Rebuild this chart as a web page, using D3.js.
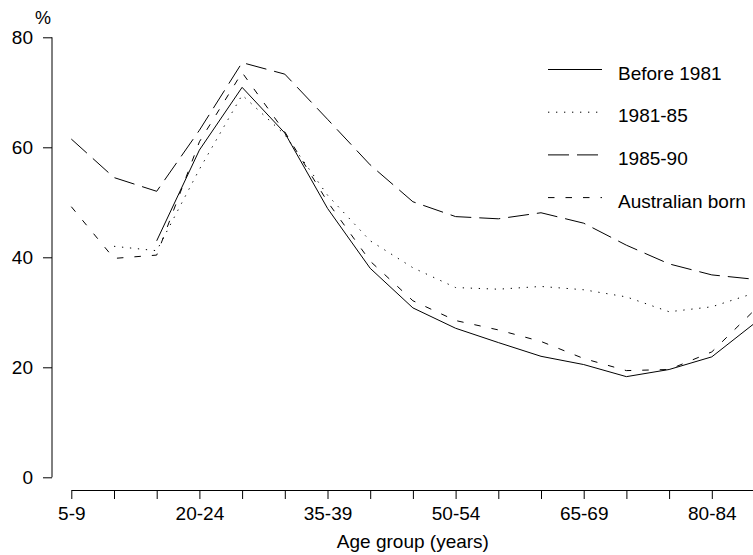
<!DOCTYPE html>
<html>
<head>
<meta charset="utf-8">
<script src="https://cdn.jsdelivr.net/npm/d3@7"></script>
<style>
  html, body { margin: 0; padding: 0; background: #fff; }
  svg { display: block; }
  text { font-family: "Liberation Sans", Arial, sans-serif; fill: #000; }
</style>
</head>
<body>
<svg id="chart" width="753" height="555"></svg>
<script>
// ---- data ----
const categories = ["5-9","10-14","15-19","20-24","25-29","30-34","35-39","40-44","45-49",
                    "50-54","55-59","60-64","65-69","70-74","75-79","80-84","85+"];
const labelledCategories = ["5-9","20-24","35-39","50-54","65-69","80-84"];
const yTicks = [0, 20, 40, 60, 80];
const seriesNames = ["Before 1981","1981-85","1985-90","Australian born"];
const before1981    = [null, null, 43.0, 59.5, 70.9, 62.6, 48.9, 38.0, 30.8, 27.1, 24.5, 22.0, 20.5, 18.3, 19.6, 21.9, 28.0];
const y1981_85      = [null, 42.0, 41.2, 56.0, 69.5, 62.3, 51.3, 43.0, 38.1, 34.5, 34.2, 34.7, 34.1, 32.8, 30.1, 31.0, 33.5];
const y1985_90      = [61.5, 54.5, 52.0, 63.1, 75.4, 73.3, 65.1, 56.8, 50.1, 47.4, 47.0, 48.1, 46.2, 42.2, 38.8, 36.8, 36.0];
const australianBorn= [49.2, 39.8, 40.4, 61.0, 73.6, 62.8, 50.1, 39.3, 32.1, 28.5, 26.8, 24.7, 21.6, 19.4, 19.6, 22.8, 30.4];
const seriesValues = [before1981, y1981_85, y1985_90, australianBorn];
const dashes = [null, "1.3,6.7", "21,8", "6.5,11"];

// ---- layout ----
const svg = d3.select("#chart");
const x = d3.scalePoint().domain(categories).range([71.3, 754.5]);
const y = d3.scaleLinear().domain([0, 80]).range([477.3, 37.3]);
const fontSize = 19;

// y axis
const yAxis = svg.append("g").attr("transform", "translate(52,0)")
  .call(d3.axisLeft(y).tickValues(yTicks).tickSize(9).tickPadding(10).tickSizeOuter(0));
yAxis.select(".domain").attr("stroke", "#000").attr("d", `M0,${y(0)}V${y(80)}`);
yAxis.selectAll(".tick line").attr("stroke", "#000");
yAxis.selectAll(".tick text").attr("font-size", fontSize).attr("font-family", "Liberation Sans, Arial, sans-serif").attr("fill", "#000").attr("dy", "0.35em");

// x axis
const xAxis = svg.append("g").attr("transform", "translate(0,490)")
  .call(d3.axisBottom(x).tickSize(9).tickPadding(8).tickSizeOuter(0)
    .tickFormat(d => labelledCategories.includes(d) ? d : ""));
xAxis.select(".domain").attr("stroke", "#000");
xAxis.selectAll(".tick line").attr("stroke", "#000");
xAxis.selectAll(".tick text").attr("font-size", fontSize).attr("font-family", "Liberation Sans, Arial, sans-serif").attr("fill", "#000");

// axis titles
svg.append("text").attr("x", 43).attr("y", 24).attr("text-anchor", "middle")
  .attr("font-size", fontSize - 1).text("%");
svg.append("text").attr("x", (x.range()[0] + x.range()[1]) / 2).attr("y", 548)
  .attr("text-anchor", "middle").attr("font-size", fontSize).text("Age group (years)");

// lines
const line = d3.line()
  .defined(d => d.v !== null)
  .x(d => x(d.c))
  .y(d => y(d.v));

seriesValues.forEach((vals, i) => {
  const pts = categories.map((c, j) => ({c, v: vals[j]}));
  svg.append("path")
    .datum(pts)
    .attr("fill", "none")
    .attr("stroke", "#000")
    .attr("stroke-width", 1)
    .attr("stroke-dasharray", dashes[i])
    .attr("d", line);
});

// legend
const legend = svg.append("g");
seriesNames.forEach((name, i) => {
  const ly = 69.5 + i * 42.7;
  legend.append("line")
    .attr("x1", 548).attr("x2", 602)
    .attr("y1", ly).attr("y2", ly)
    .attr("stroke", "#000").attr("stroke-width", 1)
    .attr("stroke-dasharray", dashes[i]);
  legend.append("text")
    .attr("x", 618).attr("y", ly + 10)
    .attr("font-size", fontSize)
    .text(name);
});
</script>
</body>
</html>
